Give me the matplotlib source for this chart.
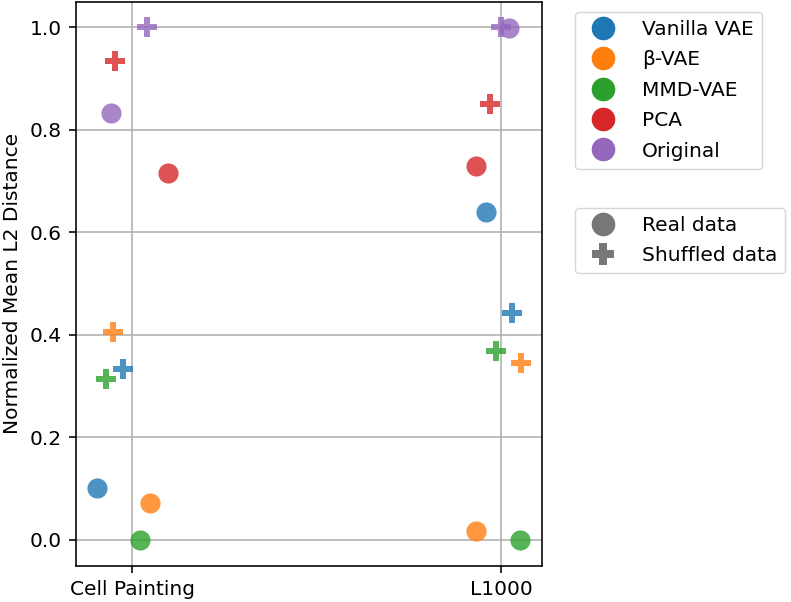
import matplotlib
matplotlib.use("Agg")
import matplotlib.pyplot as plt
from matplotlib.lines import Line2D
import numpy as np

categories = ["Cell Painting", "L1000"]
models = ["Vanilla VAE", "β-VAE", "MMD-VAE", "PCA", "Original"]
colors = ["#1f77b4", "#ff7f0e", "#2ca02c", "#d62728", "#9467bd"]

# real data values (per model) for Cell Painting, L1000
real_cp = [0.101, 0.073, 0.0, 0.716, 0.832]
real_l1 = [0.640, 0.018, 0.0, 0.729, 0.998]
shuf_cp = [0.333, 0.405, 0.314, 0.934, 1.0]
shuf_l1 = [0.443, 0.346, 0.368, 0.850, 1.0]

# jitter offsets
jit_real_cp = [-0.095, 0.047, 0.021, 0.098, -0.057]
jit_real_l1 = [-0.042, -0.069, 0.051, -0.069, 0.021]
jit_shuf_cp = [-0.025, -0.053, -0.070, -0.048, 0.041]
jit_shuf_l1 = [0.028, 0.053, -0.013, -0.029, 0.0]

S = 1.45
plt.rcParams.update({
    "font.size": 10 * S,
    "axes.linewidth": 0.8 * S,
    "xtick.major.width": 0.8 * S,
    "ytick.major.width": 0.8 * S,
    "xtick.major.size": 3.5 * S,
    "ytick.major.size": 3.5 * S,
    "xtick.major.pad": 3.5 * S,
    "ytick.major.pad": 3.5 * S,
    "axes.labelpad": 4.0 * S,
    "legend.frameon": True,
})

fig = plt.figure(figsize=(7.91, 6.02), dpi=100)
ax = fig.add_axes([0.0961, 0.0605, 0.589, 0.937])
ax.set_axisbelow(True)
ax.grid(True, color="#b0b0b0", linewidth=0.8 * S)

ms = 100 * S * S
for i, m in enumerate(models):
    ax.scatter([0 + jit_real_cp[i], 1 + jit_real_l1[i]], [real_cp[i], real_l1[i]],
               s=ms, marker="o", color=colors[i], alpha=0.8, linewidths=0)
    ax.scatter([0 + jit_shuf_cp[i], 1 + jit_shuf_l1[i]], [shuf_cp[i], shuf_l1[i]],
               s=ms, marker="P", color=colors[i], alpha=0.8, linewidths=0)

ax.set_xticks([0, 1])
ax.set_xticklabels(categories)
ax.set_ylabel("Normalized Mean L2 Distance")

h1 = [Line2D([], [], marker="o", linestyle="none", color=c, markersize=16) for c in colors]
leg1 = ax.legend(h1, models, loc="upper left", bbox_to_anchor=(1.05, 1.0),
                 handletextpad=0.9, labelspacing=0.57)
ax.add_artist(leg1)
h2 = [Line2D([], [], marker="o", linestyle="none", color="#777777", markersize=16),
      Line2D([], [], marker="P", linestyle="none", color="#777777", markersize=16, markeredgewidth=0)]
ax.legend(h2, ["Real data", "Shuffled data"], loc="upper left", bbox_to_anchor=(1.05, 0.652),
          handletextpad=0.9, labelspacing=0.57)

fig.savefig("out.png", dpi=100)
